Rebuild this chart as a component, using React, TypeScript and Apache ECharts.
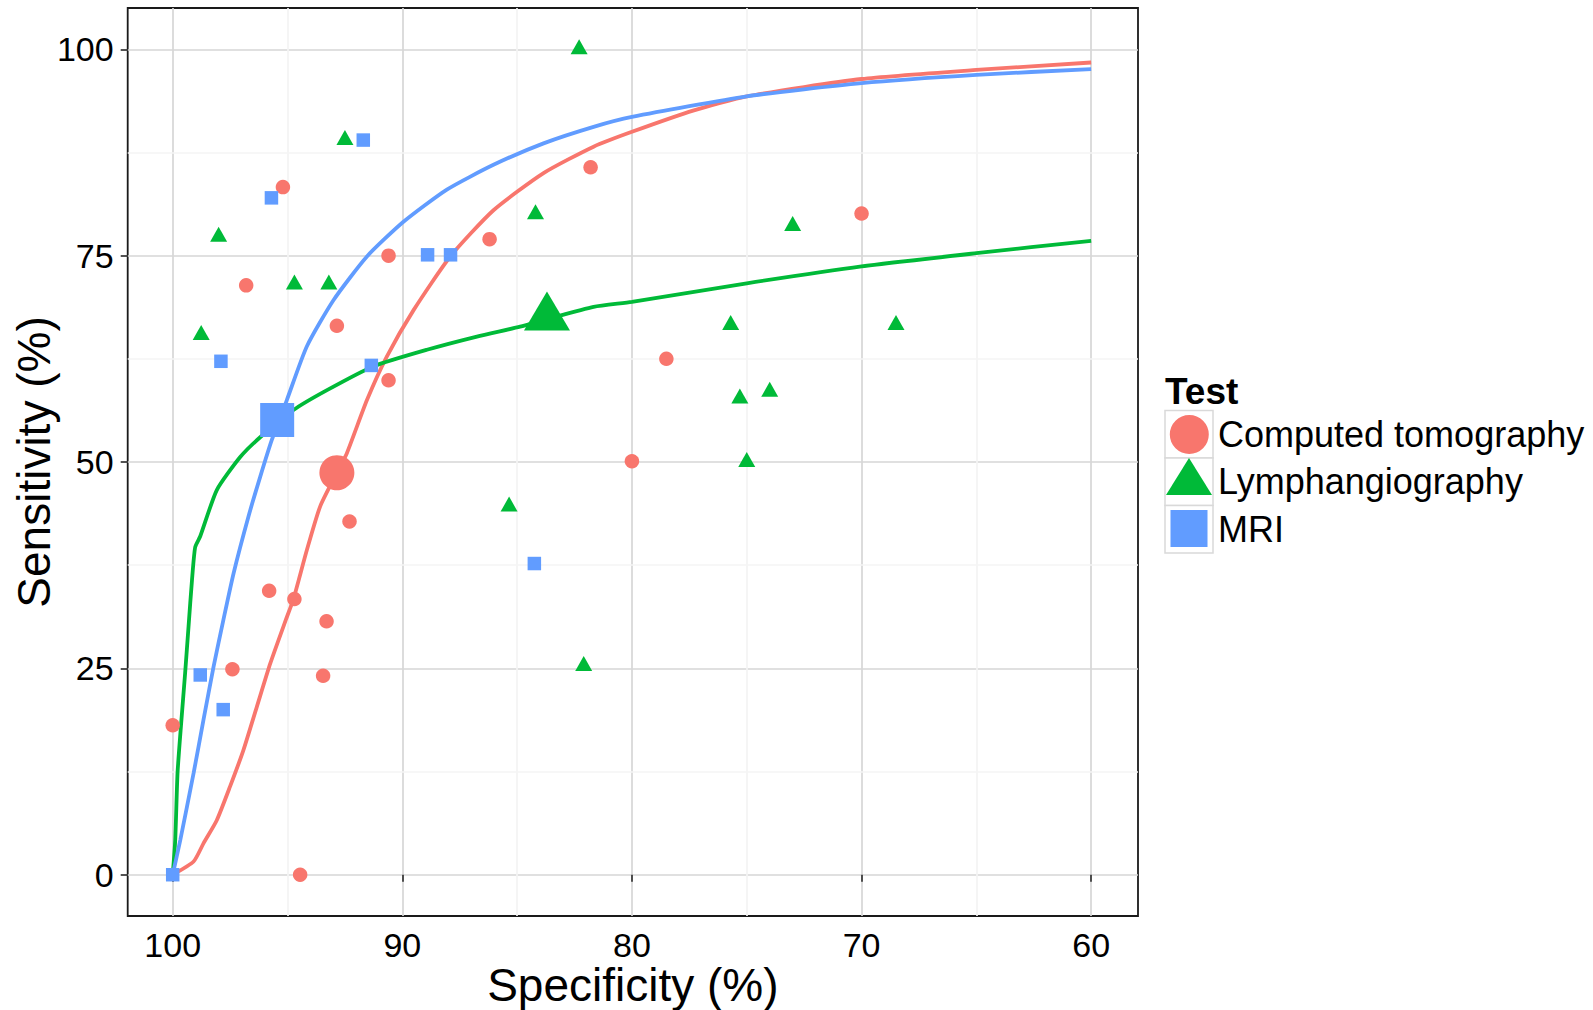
import React, { useEffect, useRef } from "react";
import * as echarts from "echarts";

const FONT = "'Liberation Sans', Arial, Helvetica, sans-serif";
const COLORS = ["#F8766D", "#00BA38", "#619CFF"];
const TEST_NAMES = ["Computed tomography", "Lymphangiography", "MRI"];

const xTicks = [100, 90, 80, 70, 60];
const yTicks = [0, 25, 50, 75, 100];
const xMinor = [95, 85, 75, 65];
const yMinor = [12.5, 37.5, 62.5, 87.5];

// individual studies: [specificity %, sensitivity %]
const ctStudies = [
  [100, 18.1], [95.2, 83.3], [96.8, 71.4], [92.85, 66.5], [90.6, 75.0], [90.6, 59.9],
  [92.3, 42.8], [95.8, 34.4], [94.7, 33.4], [93.3, 30.7], [93.45, 24.1], [97.4, 24.9],
  [94.45, 0], [86.2, 77.0], [81.8, 85.7], [78.5, 62.5], [80.0, 50.1], [70.0, 80.1],
];
const lyStudies = [
  [82.3, 100], [92.5, 89.0], [98.0, 77.3], [94.7, 71.5], [93.2, 71.5], [98.76, 65.4],
  [84.2, 80.0], [73.0, 78.6], [75.7, 66.6], [68.5, 66.6], [75.3, 57.7], [74.0, 58.5],
  [75.0, 50.0], [85.35, 44.6], [82.1, 25.3],
];
const mriStudies = [
  [100, 0], [98.8, 24.2], [97.8, 20.0], [97.9, 62.2], [95.7, 82.0], [91.7, 89.0],
  [88.9, 75.1], [87.9, 75.1], [91.35, 61.7], [84.25, 37.7],
];

// summary points
const ctSummary = [[92.85, 48.7]];
const lySummary = [[83.7, 67.5]];
const mriSummary = [[95.45, 55.1]];

// SROC curves
const ctCurve = [
  [100, 0], [99.09, 1.6], [98.66, 3.8], [98.08, 6.6], [97.5, 10.7], [96.92, 15.1],
  [96.33, 20.4], [95.75, 25.6], [95.07, 30.9], [94.74, 33.4], [94.16, 39.3], [93.58, 44.6],
  [92.85, 48.7], [92.41, 51.1], [91.54, 57.5], [90.67, 62.8], [89.51, 68.4], [87.91, 74.9],
  [86.03, 80.5], [83.85, 85.0], [81.67, 88.2], [80, 90.0], [77.3, 92.6], [75, 94.3],
  [70, 96.4], [65, 97.5], [60, 98.4],
];
const lyCurve = [
  [100, 0], [99.89, 4.2], [99.79, 12.3], [99.63, 18.4], [99.46, 24.4], [99.31, 30.1],
  [99.16, 35.7], [99.02, 39.7], [98.8, 41.0], [98.08, 46.6], [97.06, 50.6], [96.19, 53.0],
  [94.74, 56.3], [93.28, 58.7], [91.25, 61.6], [88.93, 63.6], [86.75, 65.2], [84.87, 66.4],
  [83.7, 67.3], [81.67, 68.8], [80, 69.4], [75, 71.65], [70, 73.7], [65, 75.3], [60, 76.8],
];
const mriCurve = [
  [100, 0], [99.67, 4.2], [99.09, 12.3], [98.66, 18.75], [98.22, 25.2], [97.79, 30.9],
  [97.35, 36.5], [96.7, 43.4], [96.19, 48.2], [95.68, 52.7], [95.03, 57.5], [94.16, 64.0],
  [93.0, 69.6], [91.54, 74.9], [89.95, 79.1], [88.06, 83.0], [86.03, 86.0], [83.85, 88.6],
  [81.67, 90.6], [80, 91.8], [75, 94.3], [70, 95.9], [65, 96.9], [60, 97.6],
];

const studies = [ctStudies, lyStudies, mriStudies];
const summaries = [ctSummary, lySummary, mriSummary];
const curves = [ctCurve, lyCurve, mriCurve];

const SMALL_SYMBOL: any[] = [
  { symbol: "circle", size: 14.5, offset: [0, 0] },
  { symbol: "triangle", size: [17, 15], offset: [0, -2.5] },
  { symbol: "rect", size: 13.5, offset: [0, 0] },
];
const BIG_SYMBOL: any[] = [
  { symbol: "circle", size: 35, offset: [0, 0] },
  { symbol: "triangle", size: [46, 39], offset: [0, -6.5] },
  { symbol: "rect", size: 34, offset: [0, 0] },
];
const LEGEND_ICONS = [
  "path://M0 0M48 47M4.8 24a19.5 19.5 0 1 0 39 0a19.5 19.5 0 1 0 -39 0z",
  "path://M0 0M48 47M1 37L24 0L47 37z",
  "path://M0 0M48 47M5.5 4.5h37v37h-37z",
];

const LEG_LEFT = 1165;
const LEG_TOP = 410.5;
const KEY_W = 48;
const KEY_H = 47;
const KEY_GAP = 0.5;

export default function App() {
  const ref = useRef<HTMLDivElement>(null);

  useEffect(() => {
    if (!ref.current) return;
    const chart = echarts.init(ref.current, null, { renderer: "svg" });

    const series: any[] = [];
    TEST_NAMES.forEach((name, i) => {
      series.push({
        type: "scatter",
        name,
        data: studies[i],
        symbol: SMALL_SYMBOL[i].symbol,
        symbolSize: SMALL_SYMBOL[i].size,
        symbolOffset: SMALL_SYMBOL[i].offset,
        itemStyle: { color: COLORS[i], opacity: 1 },
        z: 3,
        silent: true,
      });
    });
    TEST_NAMES.forEach((name, i) => {
      series.push({
        type: "line",
        name,
        data: curves[i],
        showSymbol: false,
        symbol: "none",
        smooth: 0.2,
        lineStyle: { color: COLORS[i], width: 3.8 },
        itemStyle: { color: COLORS[i] },
        z: 2,
        silent: true,
      });
      series.push({
        type: "scatter",
        name,
        data: summaries[i],
        symbol: BIG_SYMBOL[i].symbol,
        symbolSize: BIG_SYMBOL[i].size,
        symbolOffset: BIG_SYMBOL[i].offset,
        itemStyle: { color: COLORS[i], opacity: 1 },
        z: 4,
        silent: true,
      });
    });
    series.push({
      type: "line",
      name: "__minor_grid",
      data: [],
      silent: true,
      z: 0,
      markLine: {
        silent: true,
        z: 0,
        symbol: ["none", "none"],
        label: { show: false },
        emphasis: { disabled: true },
        lineStyle: { color: "#F4F4F4", width: 1.7, type: "solid" },
        data: [
          ...xMinor.map((v) => ({ xAxis: v })),
          ...yMinor.map((v) => ({ yAxis: v })),
        ],
      },
    });

    const option: any = {
      animation: false,
      backgroundColor: "#ffffff",
      textStyle: { fontFamily: FONT },
      grid: {
        left: 127.7,
        top: 8,
        width: 1010.3,
        height: 908,
        show: true,
        borderColor: "#1a1a1a",
        borderWidth: 1.8,
        backgroundColor: "#ffffff",
        containLabel: false,
        outerBoundsMode: "none",
      },
      xAxis: {
        type: "value",
        min: 57.96,
        max: 101.96,
        inverse: true,
        axisLine: { show: false },
        axisTick: {
          show: true,
          length: 7,
          customValues: xTicks,
          lineStyle: { color: "#333333", width: 1.7 },
        },
        axisLabel: {
          customValues: xTicks,
          fontSize: 34,
          lineHeight: 30,
          color: "#000000",
          margin: 14,
          fontFamily: FONT,
        },
        splitLine: { show: true, lineStyle: { color: "#D6D6D6", width: 1.7 } },
        name: "Specificity (%)",
        nameLocation: "middle",
        nameGap: 46,
        nameMoveOverlap: false,
        nameTextStyle: { fontSize: 46, lineHeight: 46, color: "#000000", fontFamily: FONT },
      },
      yAxis: {
        type: "value",
        min: -5,
        max: 105,
        axisLine: { show: false },
        axisTick: {
          show: true,
          length: 7,
          customValues: yTicks,
          lineStyle: { color: "#333333", width: 1.7 },
        },
        axisLabel: {
          customValues: yTicks,
          fontSize: 34,
          color: "#000000",
          margin: 14,
          fontFamily: FONT,
        },
        splitLine: { show: true, lineStyle: { color: "#D6D6D6", width: 1.7 } },
        name: "Sensitivity (%)",
        nameLocation: "middle",
        nameGap: 70.7,
        nameMoveOverlap: false,
        nameTextStyle: { fontSize: 46, lineHeight: 46, color: "#000000", fontFamily: FONT },
      },
      legend: {
        show: true,
        orient: "vertical",
        left: LEG_LEFT,
        top: LEG_TOP,
        itemWidth: KEY_W,
        itemHeight: KEY_H,
        itemGap: KEY_GAP,
        padding: 0,
        selectedMode: false,
        symbolKeepAspect: true,
        data: TEST_NAMES.map((name, i) => ({
          name,
          icon: LEGEND_ICONS[i],
          itemStyle: { color: COLORS[i], borderWidth: 0 },
        })),
        textStyle: { fontSize: 36, color: "#000000", fontFamily: FONT },
      },
      graphic: [
        {
          type: "text",
          x: LEG_LEFT,
          y: 391,
          z: 1,
          style: {
            text: "Test",
            fontSize: 37,
            fontWeight: "bold",
            fontFamily: FONT,
            fill: "#000000",
            align: "left",
            verticalAlign: "middle",
          },
        },
        ...TEST_NAMES.map((_, i) => ({
          type: "rect",
          z: 0,
          shape: {
            x: LEG_LEFT,
            y: LEG_TOP + i * (KEY_H + KEY_GAP),
            width: KEY_W,
            height: KEY_H + KEY_GAP,
          },
          style: { fill: "#ffffff", stroke: "#D9D9D9", lineWidth: 1.5 },
        })),
      ],
      series,
    };

    chart.setOption(option);
    return () => {
      chart.dispose();
    };
  }, []);

  return (
    <div
      ref={ref}
      style={{ position: "fixed", left: 0, top: 0, width: 1593, height: 1010, background: "#fff" }}
    />
  );
}
